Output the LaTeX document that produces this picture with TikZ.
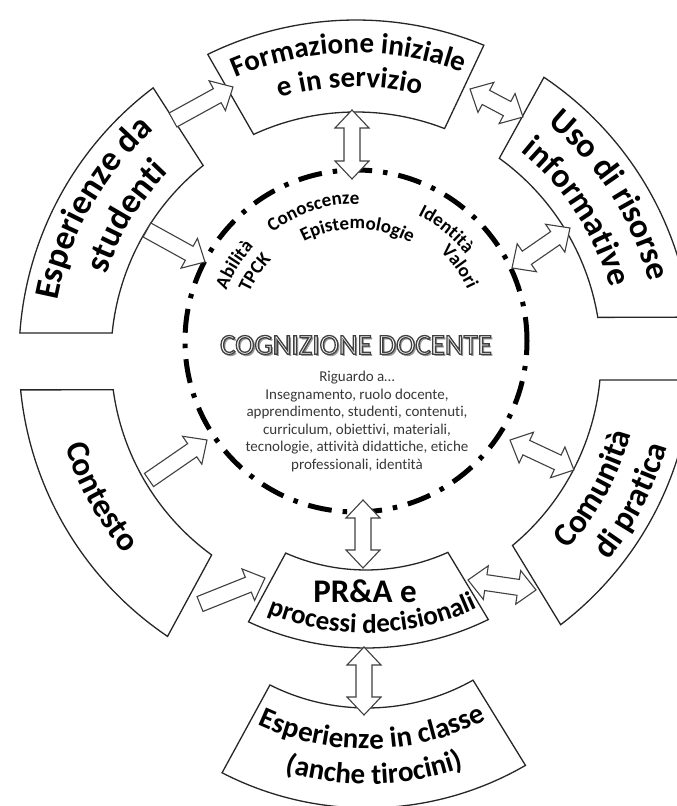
\documentclass[tikz,border=0pt]{standalone}
\usepackage{fontspec}
\setmainfont{Carlito}[Ligatures={NoCommon}]
\usetikzlibrary{calc,decorations.text}

\newcommand{\aw}{8pt}
\newcommand{\aW}{17pt}
\newcommand{\ah}{18pt}

% single block arrow from #1 to #2
\newcommand{\sarrow}[2]{%
  \draw[blk] let \p1=($(#2)-(#1)$), \n1={atan2(\y1,\x1)}, \n2={veclen(\x1,\y1)} in
    ($(#1)+({\n1+90}:\aw)$) -- ($(#1)+(\n1:{\n2-\ah})+({\n1+90}:\aw)$)
    -- ($(#1)+(\n1:{\n2-\ah})+({\n1+90}:\aW)$) -- (#2)
    -- ($(#1)+(\n1:{\n2-\ah})+({\n1-90}:\aW)$) -- ($(#1)+(\n1:{\n2-\ah})+({\n1-90}:\aw)$)
    -- ($(#1)+({\n1-90}:\aw)$) -- cycle;}
% double block arrow between #1 and #2
\newcommand{\darrow}[2]{%
  \draw[blk] let \p1=($(#2)-(#1)$), \n1={atan2(\y1,\x1)}, \n2={veclen(\x1,\y1)} in
    (#1) -- ($(#1)+(\n1:\ah)+({\n1+90}:\aW)$) -- ($(#1)+(\n1:\ah)+({\n1+90}:\aw)$)
    -- ($(#1)+(\n1:{\n2-\ah})+({\n1+90}:\aw)$) -- ($(#1)+(\n1:{\n2-\ah})+({\n1+90}:\aW)$)
    -- (#2)
    -- ($(#1)+(\n1:{\n2-\ah})+({\n1-90}:\aW)$) -- ($(#1)+(\n1:{\n2-\ah})+({\n1-90}:\aw)$)
    -- ($(#1)+(\n1:\ah)+({\n1-90}:\aw)$) -- ($(#1)+(\n1:\ah)+({\n1-90}:\aW)$) -- cycle;}
% annular block: center, outer start, outer end, outer radius, inner start, inner end, inner radius
\newcommand{\ringblock}[7]{%
  \draw[box] ($(#1)+(#2:#4)$) arc[start angle=#2, end angle=#3, radius=#4]
    -- ($(#1)+(#5:#7)$) arc[start angle=#5, end angle=#6, radius=#7] -- cycle;}
% clockwise text (upright on top side): center, mid angle, baseline radius, font, text
\newcommand{\cwtext}[5]{%
  \path[decorate, decoration={text along path, text align=center, text={|#4|#5}}]
    ($(#1)+({#2+60}:#3)$) arc[start angle={#2+60}, end angle={#2-60}, radius=#3];}
% counter-clockwise text (upright on bottom side)
\newcommand{\ccwtext}[5]{%
  \path[decorate, decoration={text along path, text align=center, text={|#4|#5}}]
    ($(#1)+({#2-60}:#3)$) arc[start angle={#2-60}, end angle={#2+60}, radius=#3];}

\newcommand{\fES}{\fontsize{35}{38}\selectfont\bfseries}
\newcommand{\fFO}{\fontsize{29}{32}\selectfont\bfseries}
\newcommand{\fUS}{\fontsize{34}{37}\selectfont\bfseries}
\newcommand{\fCO}{\fontsize{33}{36}\selectfont\bfseries}
\newcommand{\fCT}{\fontsize{33}{36}\selectfont\bfseries}
\newcommand{\fPR}{\fontsize{27}{30}\selectfont\bfseries}
\newcommand{\fEC}{\fontsize{29}{32}\selectfont\bfseries}
\newcommand{\fIN}{\fontsize{19}{21}\selectfont\bfseries}
\newcommand{\cogtxt}{COGNIZIONE DOCENTE}
% outlined text: white fill, dark stroke (PDF text render mode 2)
\newcommand{\outlined}[1]{\special{pdf:literal direct 2 Tr 1.3 w 0.25 0.25 0.25 RG 1 1 1 rg}#1\special{pdf:literal direct 0 Tr}}

\begin{document}
\begin{tikzpicture}[x=1pt,y=1pt,
  box/.style={draw=black!85, fill=white, line width=1.3pt, line join=miter},
  blk/.style={draw=black!75, fill=white, line width=1.1pt, line join=miter},
  cog/.style={font=\fontsize{29}{32}\selectfont, inner sep=0pt},
  desc/.style={font=\fontsize{15}{17.5}\selectfont, text=black!78, align=center, inner sep=0pt},
  dashdot/.style={line width=5pt, dash pattern=on 24pt off 11pt on 4.5pt off 11pt}]
\useasboundingbox (0,0) rectangle (677,806);
\clip (0,0) rectangle (677,806);

% centres
\coordinate (Cr) at (356,449);
\coordinate (Cc) at (356,465);
\coordinate (Cp) at (366,435);
\coordinate (Ce) at (367,314);

% central dash-dot circle
\draw[dashdot] (Cc) circle[radius=171pt];

% outer blocks
\ringblock{Cr}{175.9}{127.0}{337pt}{128.6}{174.4}{245pt}
\ringblock{Cr}{116.1}{67.7}{337pt}{68.8}{114.7}{245pt}
\ringblock{Cr}{56.1}{6.8}{337pt}{9.3}{54.2}{245pt}
\ringblock{Cr}{-3.9}{-52.6}{337pt}{-50.3}{-5.4}{245pt}
\ringblock{Cr}{185.6}{236.0}{337pt}{233.9}{187.7}{245pt}
\ringblock{Cp}{244.9}{296.2}{277pt}{294.3}{246.2}{199pt}
\ringblock{Ce}{242.7}{300.1}{316pt}{299.4}{243.3}{216pt}

% arrow end points
\coordinate (a1s) at (173,686); \coordinate (a1e) at (233,719);
\coordinate (a2s) at (147,576); \coordinate (a2e) at (205,544);
\coordinate (a3s) at (352,696); \coordinate (a3e) at (352,627);
\coordinate (a4s) at (470,717); \coordinate (a4e) at (523,689);
\coordinate (a5s) at (570,578); \coordinate (a5e) at (512,538);
\coordinate (a6s) at (510,366); \coordinate (a6e) at (574,336);
\coordinate (a7s) at (468,226); \coordinate (a7e) at (536,216);
\coordinate (a8s) at (363,306); \coordinate (a8e) at (363,238);
\coordinate (a9s) at (364,159); \coordinate (a9e) at (364,91);
\coordinate (a10s) at (149,326); \coordinate (a10e) at (207,366);
\coordinate (a11s) at (200,202); \coordinate (a11e) at (265,228);

\sarrow{a1s}{a1e}
\sarrow{a2s}{a2e}
\darrow{a3s}{a3e}
\darrow{a4s}{a4e}
\darrow{a5s}{a5e}
\darrow{a6s}{a6e}
\darrow{a7s}{a7e}
\darrow{a8s}{a8e}
\darrow{a9s}{a9e}
\sarrow{a10s}{a10e}
\sarrow{a11s}{a11e}

% block texts
\cwtext{Cr}{150.5}{304pt}{\fES}{Esperienze da}
\cwtext{Cr}{148.5}{263pt}{\fES}{studenti}
\cwtext{Cr}{91.4}{304pt}{\fFO}{Formazione iniziale}
\cwtext{Cr}{91.3}{270pt}{\fFO}{e in servizio}
\cwtext{Cr}{32.5}{302pt}{\fUS}{Uso di risorse}
\cwtext{Cr}{33.2}{263pt}{\fUS}{informative}
\ccwtext{Cr}{-28.9}{286pt}{\fCO}{Comunità}
\ccwtext{Cr}{-27.5}{324pt}{\fCO}{di pratica}
\ccwtext{Cr}{208.7}{304pt}{\fCT}{Contesto}
\node[font=\fontsize{33}{36}\selectfont\bfseries, inner sep=0pt] (pra) at (365,215) {PR\&A e};
\ccwtext{Cp}{271.5}{262pt}{\fPR}{processi decisionali}
\ccwtext{Ce}{271.3}{257pt}{\fEC}{Esperienze in classe}
\ccwtext{Ce}{271.5}{292pt}{\fEC}{(anche tirocini)}

% inner arc texts
\cwtext{Cc}{108}{137pt}{\fIN}{Conoscenze}
\cwtext{Cc}{89.2}{112pt}{\fIN}{Epistemologie}
\cwtext{Cc}{148}{139pt}{\fIN}{Abilità}
\cwtext{Cc}{146}{117pt}{\fIN}{TPCK}
\cwtext{Cc}{51}{140pt}{\fIN}{Identità}
\cwtext{Cc}{35.8}{123pt}{\fIN}{Valori}

% COGNIZIONE DOCENTE (outlined, shadowed)
\coordinate (cogpos) at (356,461);
\node[cog, text=black!40] (cogsh) at ($(cogpos)+(1.8,-1.8)$) {\cogtxt};
\node[cog] (cog) at (cogpos) {\outlined{\cogtxt}};

\node[desc] (desc) at (357,384.5) {Riguardo a…\\Insegnamento, ruolo docente,\\apprendimento, studenti, contenuti,\\curriculum, obiettivi, materiali,\\tecnologie, attività didattiche, etiche\\professionali, identità};
\end{tikzpicture}
\end{document}
